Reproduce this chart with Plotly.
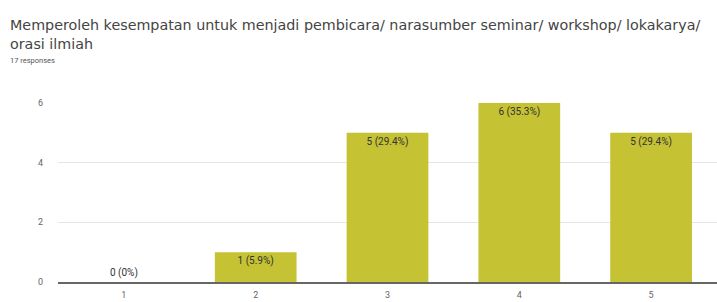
import plotly.graph_objects as go

categories = ["1", "2", "3", "4", "5"]
counts = [0, 1, 5, 6, 5]
labels = ["0 (0%)", "1 (5.9%)", "5 (29.4%)", "6 (35.3%)", "5 (29.4%)"]
title_lines = ["Memperoleh kesempatan untuk menjadi pembicara/ narasumber seminar/ workshop/ lokakarya/",
               "orasi ilmiah"]
subtitle = "17 responses"
y_ticks = [0, 2, 4, 6]

W, H = 717, 302
l, r, t, b = 58, 0, 103, 20
pw, ph = W - l - r, H - t - b
def px(x): return (x - l) / pw
def py(y): return (H - b - y) / ph

fig = go.Figure(go.Bar(
    x=categories, y=counts, text=labels,
    textposition=["outside" if c == 0 else "inside" for c in counts],
    insidetextanchor="end",
    textfont=dict(size=10, color="#333", family="Roboto"),
    marker=dict(color="#c5c233", line=dict(width=0)),
    width=0.62, cliponaxis=False,
))

fig.update_layout(
    width=W, height=H,
    margin=dict(l=l, r=r, t=t, b=b),
    paper_bgcolor="white", plot_bgcolor="white",
    showlegend=False,
    font=dict(family="Roboto", color="#555"),
    xaxis=dict(type="category", showgrid=False, showline=True, linecolor="#666", linewidth=2,
               ticks="", tickfont=dict(size=9, color="#666"), ticklabelstandoff=3),
    yaxis=dict(range=[0, 6], tickvals=y_ticks, showgrid=True, gridcolor="#e6e6e6",
               zeroline=False, ticks="", tickfont=dict(size=9, color="#666"), ticklabelstandoff=14),
)

for txt, yy in [(title_lines[0], 25), (title_lines[1], 44)]:
    fig.add_annotation(text=txt, x=px(8), y=py(yy), xref="paper", yref="paper",
                       xanchor="left", yanchor="middle", showarrow=False,
                       font=dict(size=14.3, color="#444", family="DejaVu Sans"))
fig.add_annotation(text=subtitle, x=px(8), y=py(60), xref="paper", yref="paper",
                   xanchor="left", yanchor="middle", showarrow=False,
                   font=dict(size=7.5, color="#555", family="Roboto"))

fig.write_html("out.html", config={"displayModeBar": False},
               post_script="document.body.style.margin='0';")
